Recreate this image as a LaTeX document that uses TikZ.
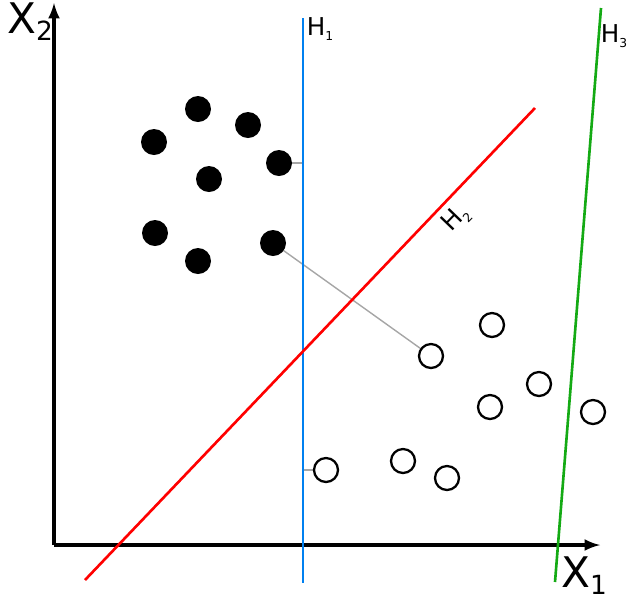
\documentclass[tikz,border=0pt]{standalone}
\usepackage{fontspec}
\setmainfont{DejaVu Sans}
\begin{document}
\begin{tikzpicture}[x=0.02cm,y=-0.02cm,
  fill dot/.style={circle,fill=black,minimum size=0.52cm,inner sep=0pt},
  open dot/.style={circle,draw=black,line width=1.3pt,fill=white,minimum size=0.48cm,inner sep=0pt},
  axis/.style={line width=2pt,-{latex[scale=1.4]}},
  lab/.style={font=\fontsize{14}{14}\selectfont},
  big/.style={font=\fontsize{24}{24}\selectfont}]
\useasboundingbox (0,0) rectangle (628,600);
\coordinate (O) at (54,545);
\coordinate (Yt) at (54,3);
\coordinate (Xt) at (600,545);
\draw[axis] (O) -- (Yt);
\draw[axis] (O) -- (Xt);
\newcommand\subl[1]{\raisebox{-0.4ex}{\scriptsize #1}}
\node[big] (x2) at (30,22) {X\raisebox{-0.3ex}{\fontsize{15}{15}\selectfont 2}};
\node[big] (x1) at (584,576) {X\raisebox{-0.3ex}{\fontsize{15}{15}\selectfont 1}};
% connectors (gray)
\coordinate (h1a) at (303,163);
\coordinate (h1b) at (303,470);
\draw[gray!70,line width=0.8pt] (h1a) -- (279,163);
\draw[gray!70,line width=0.8pt] (273,243) -- (431,356);
\draw[gray!70,line width=0.8pt] (h1b) -- (326,470);
% hyperplanes
\coordinate (h1s) at (303,18); \coordinate (h1e) at (303,583);
\coordinate (h2s) at (85,580); \coordinate (h2e) at (535,108);
\coordinate (h3s) at (555,582); \coordinate (h3e) at (601,8);
\draw[color={rgb,255:red,0;green,128;blue,240},line width=1.5pt] (h1s) -- (h1e);
\draw[red,line width=1.5pt] (h2s) -- (h2e);
\draw[color={rgb,255:red,20;green,170;blue,20},line width=1.5pt] (h3s) -- (h3e);
\node[lab] (lh1) at (320,29) {H\subl{1}};
\node[lab,rotate=46] (lh2) at (456,219) {H\subl{2}};
\node[lab] (lh3) at (614,36) {H\subl{3}};
% points
\foreach \n/\p in {a/{198,109},b/{248,125},c/{154,142},d/{279,163},e/{209,179},f/{155,233},g/{198,261},h/{273,243}}
  \node[fill dot] (f\n) at (\p) {};
\foreach \n/\p in {a/{492,325},b/{431,356},c/{539,384},d/{490,407},e/{593,412},f/{326,470},g/{403,461},h/{447,478}}
  \node[open dot] (o\n) at (\p) {};
\end{tikzpicture}
\end{document}
